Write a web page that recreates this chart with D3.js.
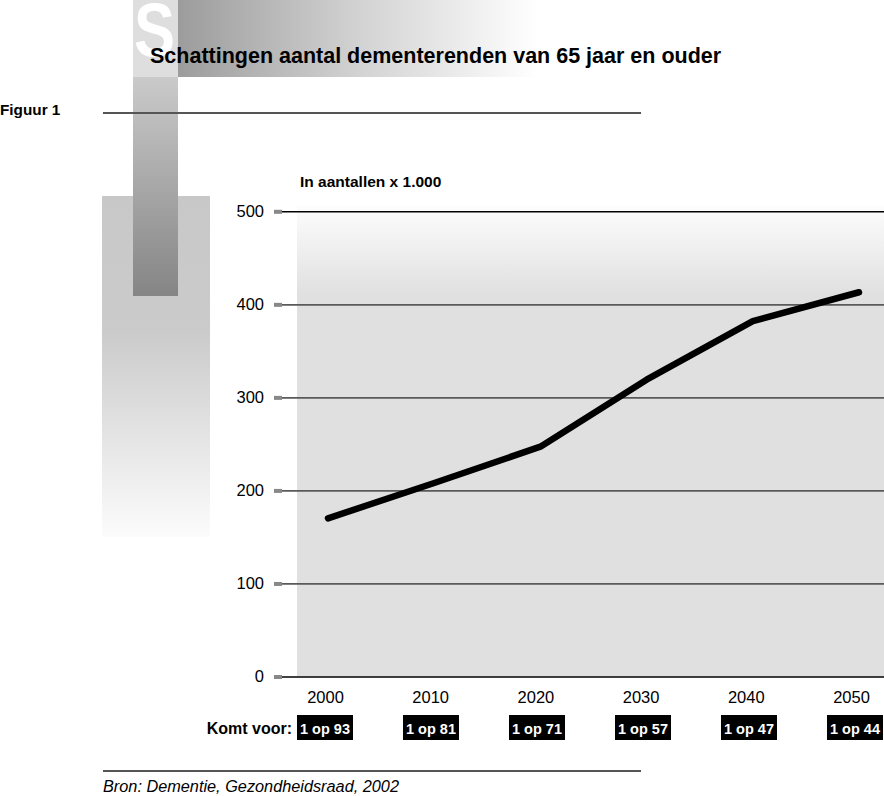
<!DOCTYPE html>
<html><head><meta charset="utf-8">
<script src="https://cdn.jsdelivr.net/npm/d3@7"></script>
<style>
html,body{margin:0;padding:0;background:#fff;}
svg{display:block;font-family:"Liberation Sans",Arial,Helvetica,sans-serif;}
</style></head>
<body>
<script>
const years = [2000, 2010, 2020, 2030, 2040, 2050];
const values = [170, 208, 247, 319, 382, 413];
const ratios = ["1 op 93", "1 op 81", "1 op 71", "1 op 57", "1 op 47", "1 op 44"];
const yTicks = [0, 100, 200, 300, 400, 500];
const title = "Schattingen aantal dementerenden van 65 jaar en ouder";
const figLabel = "Figuur 1";
const unitLabel = "In aantallen x 1.000";
const rowLabel = "Komt voor:";
const source = "Bron: Dementie, Gezondheidsraad, 2002";

const W = 884, H = 796;
const svg = d3.select("body").append("svg").attr("width", W).attr("height", H);
const defs = svg.append("defs");

function grad(id, x2, y2, stops) {
  const g = defs.append("linearGradient").attr("id", id)
    .attr("x1", 0).attr("y1", 0).attr("x2", x2).attr("y2", y2);
  stops.forEach(s => g.append("stop").attr("offset", s[0]).attr("stop-color", s[1]));
}
grad("gBig", 0, 1, [[0, "#c8c8c8"], [0.4, "#cbcbcb"], [1, "#fcfcfc"]]);
grad("gVert", 0, 1, [[0, "#cacaca"], [1, "#858585"]]);
grad("gHor", 1, 0, [[0, "#9c9c9c"], [0.5, "#d2d2d2"], [1, "#ffffff"]]);
grad("gPlot", 0, 1, [[0, "#fdfdfd"], [0.19, "#e0e0e0"], [1, "#e0e0e0"]]);

// decorative blocks
svg.append("rect").attr("x", 102).attr("y", 196).attr("width", 108).attr("height", 341).attr("fill", "url(#gBig)");
svg.append("rect").attr("x", 178).attr("y", 0).attr("width", 359).attr("height", 77).attr("fill", "url(#gHor)");
svg.append("rect").attr("x", 133).attr("y", 0).attr("width", 45).attr("height", 77).attr("fill", "#dedede");
svg.append("rect").attr("x", 133).attr("y", 77).attr("width", 45).attr("height", 219).attr("fill", "url(#gVert)");
svg.append("text").attr("x", 134).attr("y", 56).attr("font-size", 76).attr("font-weight", "bold")
  .attr("fill", "#fff").attr("textLength", 41).attr("lengthAdjust", "spacingAndGlyphs").text("S");

// title
svg.append("text").attr("x", 150).attr("y", 63).attr("font-size", 21.5).attr("font-weight", "bold")
  .attr("fill", "#000").text(title);
svg.append("text").attr("x", 0).attr("y", 115).attr("font-size", 15.3).attr("font-weight", "bold").text(figLabel);
svg.append("line").attr("x1", 103).attr("x2", 641).attr("y1", 113).attr("y2", 113).attr("stroke", "#555").attr("stroke-width", 2);

// scales
const y = d3.scaleLinear().domain([0, 500]).range([676.5, 211.3]);
const xLine = d3.scaleLinear().domain([2000, 2050]).range([328, 859]);
const xLab = d3.scaleLinear().domain([2000, 2050]).range([325, 851]);
const xBox = d3.scaleLinear().domain([2000, 2050]).range([325, 855]);

// plot background
svg.append("rect").attr("x", 297).attr("y", 205).attr("width", W - 297).attr("height", y(0) - 205).attr("fill", "url(#gPlot)");

svg.append("text").attr("x", 300).attr("y", 187).attr("font-size", 15.5).attr("font-weight", "bold").text(unitLabel);

// y axis grid
const yAxis = d3.axisLeft(y).tickValues(yTicks).tickSize(0).tickPadding(0);
const gy = svg.append("g").attr("transform", "translate(282,0)").call(yAxis);
gy.select(".domain").remove();
gy.selectAll(".tick text").attr("x", -18).attr("font-size", 16.5).attr("fill", "#000")
  .attr("font-family", "'Liberation Sans',Arial,sans-serif");
gy.selectAll(".tick").append("rect").attr("x", -8).attr("y", -2).attr("width", 8).attr("height", 4).attr("fill", "#888");
gy.selectAll(".tick").append("line").attr("x1", 0).attr("x2", W - 282)
  .attr("stroke", d => (d === 500 || d === 0) ? "#000" : "#5a5a5a")
  .attr("stroke-width", d => (d === 500 || d === 0) ? 1.4 : 1.8);

// x labels
const xAxis = d3.axisBottom(xLab).tickValues(years).tickFormat(d3.format("d")).tickSize(0).tickPadding(0);
const gx = svg.append("g").attr("transform", "translate(0,691)").call(xAxis);
gx.select(".domain").remove();
gx.selectAll(".tick text").attr("font-size", 16.5).attr("fill", "#000").attr("dy", "0.71em")
  .attr("font-family", "'Liberation Sans',Arial,sans-serif");

// line
const line = d3.line().x((d, i) => xLine(years[i])).y(d => y(d));
svg.append("path").datum(values).attr("d", line).attr("fill", "none").attr("stroke", "#000")
  .attr("stroke-width", 6.5).attr("stroke-linecap", "round").attr("stroke-linejoin", "round");

// ratio boxes
svg.append("text").attr("x", 292).attr("y", 734).attr("text-anchor", "end").attr("font-size", 16)
  .attr("font-weight", "bold").text(rowLabel);
const boxes = svg.append("g").selectAll("g").data(years).join("g")
  .attr("transform", d => `translate(${xBox(d)},728)`);
boxes.append("rect").attr("x", -28).attr("y", -13).attr("width", 56).attr("height", 25).attr("fill", "#000");
boxes.append("text").attr("text-anchor", "middle").attr("y", 5.5).attr("font-size", 14.5).attr("font-weight", "bold")
  .attr("fill", "#fff").text((d, i) => ratios[i]);

// bottom
svg.append("line").attr("x1", 103).attr("x2", 641).attr("y1", 771).attr("y2", 771).attr("stroke", "#555").attr("stroke-width", 2);
svg.append("text").attr("x", 103).attr("y", 792).attr("font-size", 16.3).attr("font-style", "italic").text(source);
</script>
</body></html>
